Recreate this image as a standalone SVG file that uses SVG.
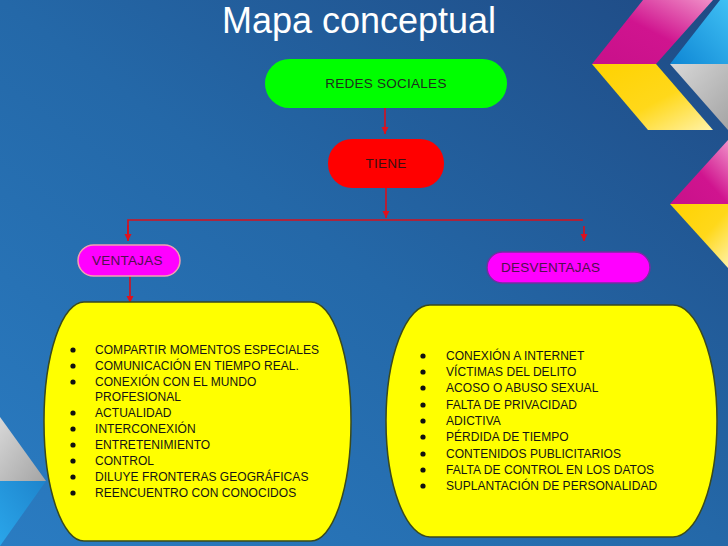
<svg xmlns="http://www.w3.org/2000/svg" width="728" height="546" viewBox="0 0 728 546">
<defs>
<linearGradient id="bg" x1="0" y1="1" x2="1" y2="0">
<stop offset="0" stop-color="#2a7cc2"/>
<stop offset="0.5" stop-color="#2468a8"/>
<stop offset="1" stop-color="#1f4a84"/>
</linearGradient>
<linearGradient id="mag" x1="1" y1="0" x2="0" y2="1">
<stop offset="0" stop-color="#f090c8"/>
<stop offset="0.5" stop-color="#d0148f"/>
<stop offset="1" stop-color="#c8108a"/>
</linearGradient>
<linearGradient id="yel" x1="0" y1="0" x2="1" y2="1">
<stop offset="0" stop-color="#ffd200"/>
<stop offset="0.55" stop-color="#ffd81a"/>
<stop offset="1" stop-color="#fff2a8"/>
</linearGradient>
<linearGradient id="cya" x1="1" y1="0" x2="0" y2="1">
<stop offset="0" stop-color="#40c0f4"/>
<stop offset="1" stop-color="#0e86d4"/>
</linearGradient>
<linearGradient id="gry" x1="0" y1="0" x2="1" y2="1">
<stop offset="0" stop-color="#d8d8d8"/>
<stop offset="1" stop-color="#a4a4a4"/>
</linearGradient>
<linearGradient id="lcy" x1="0" y1="1" x2="1" y2="0">
<stop offset="0" stop-color="#2aa6ea"/>
<stop offset="1" stop-color="#1e84cc"/>
</linearGradient>
<marker id="ah" viewBox="0 0 10 10" refX="10" refY="5" markerWidth="7" markerHeight="9" markerUnits="userSpaceOnUse" orient="auto">
<path d="M0,0 L10,5 L0,10 Z" fill="#e0101c"/>
</marker>
<style>
.title{font-family:"Liberation Sans",Arial,sans-serif;font-size:36px;fill:#ffffff}
.lbl{font-family:"Liberation Sans",Arial,sans-serif;font-size:13.5px;letter-spacing:0.25px}
.item{font-family:"Liberation Sans",Arial,sans-serif;font-size:12px;letter-spacing:0.05px;fill:#141414}
.conn{stroke:#d8101c;stroke-width:1.6;fill:none}
.box{fill:#ffff00;stroke:#3a4a1c;stroke-width:1.5}
.dot{fill:#111111}
</style>
</defs>
<rect x="0" y="0" width="728" height="546" fill="url(#bg)"/>
<g id="decor">
<polygon points="643,0 713,0 656,64 592,64" fill="url(#mag)"/>
<polygon points="592,64 656,64 713,130 648,130" fill="url(#yel)"/>
<polygon points="720,0 728,0 728,64 670,64" fill="url(#cya)"/>
<polygon points="670,64 728,64 728,130" fill="url(#gry)"/>
<polygon points="670,204 728,204 728,140" fill="url(#mag)"/>
<polygon points="670,204 728,204 728,268" fill="url(#yel)"/>
<polygon points="0,417 46,481 0,481" fill="url(#gry)"/>
<polygon points="0,481 46,481 0,546" fill="url(#lcy)"/>
</g>
<text class="title" x="359" y="33" text-anchor="middle">Mapa conceptual</text>
<g id="connectors">
<line class="conn" x1="385" y1="108" x2="385" y2="134" marker-end="url(#ah)"/>
<line class="conn" x1="386" y1="188" x2="386" y2="218" marker-end="url(#ah)"/>
<polyline class="conn" points="128,240 128,220 583,220"/>
<line class="conn" x1="128" y1="225" x2="128" y2="241" marker-end="url(#ah)"/>
<line class="conn" x1="584" y1="226" x2="584" y2="241" marker-end="url(#ah)"/>
<line class="conn" x1="130" y1="276" x2="130" y2="303" marker-end="url(#ah)"/>
</g>
<g id="redes">
<rect x="265" y="59" width="242" height="49" rx="24.5" fill="#00ff00"/>
<text class="lbl" x="386" y="88" text-anchor="middle" fill="#1e2e1e">REDES SOCIALES</text>
</g>
<g id="tiene">
<rect x="328" y="139" width="116" height="49" rx="24" fill="#ff0000"/>
<text class="lbl" x="386" y="168" text-anchor="middle" fill="#3a1010">TIENE</text>
</g>
<g id="ventajas">
<rect x="78" y="245" width="102" height="31" rx="15.5" fill="#ff00ff" stroke="#f4a0b0" stroke-width="1.5"/>
<text class="lbl" x="92" y="265" fill="#50104e">VENTAJAS</text>
</g>
<g id="desventajas">
<rect x="487" y="252" width="163" height="31" rx="15.5" fill="#ff00ff" stroke="#7030a0" stroke-width="1.5"/>
<text class="lbl" x="501" y="272" fill="#50104e">DESVENTAJAS</text>
</g>
<g id="lista-ventajas">
<rect class="box" x="44" y="302" width="307" height="239" rx="40" ry="119"/>
<circle class="dot" cx="73" cy="350" r="2.6"/>
<circle class="dot" cx="73" cy="366" r="2.6"/>
<circle class="dot" cx="73" cy="382" r="2.6"/>
<circle class="dot" cx="73" cy="413" r="2.6"/>
<circle class="dot" cx="73" cy="429" r="2.6"/>
<circle class="dot" cx="73" cy="445" r="2.6"/>
<circle class="dot" cx="73" cy="461" r="2.6"/>
<circle class="dot" cx="73" cy="477" r="2.6"/>
<circle class="dot" cx="73" cy="493" r="2.6"/>
<text class="item" x="95" y="354">COMPARTIR MOMENTOS ESPECIALES</text>
<text class="item" x="95" y="370">COMUNICACIÓN EN TIEMPO REAL.</text>
<text class="item" x="95" y="386">CONEXIÓN CON EL MUNDO</text>
<text class="item" x="95" y="401">PROFESIONAL</text>
<text class="item" x="95" y="417">ACTUALIDAD</text>
<text class="item" x="95" y="433">INTERCONEXIÓN</text>
<text class="item" x="95" y="449">ENTRETENIMIENTO</text>
<text class="item" x="95" y="465">CONTROL</text>
<text class="item" x="95" y="481">DILUYE FRONTERAS GEOGRÁFICAS</text>
<text class="item" x="95" y="497">REENCUENTRO CON CONOCIDOS</text>
</g>
<g id="lista-desventajas">
<rect class="box" x="386" y="305" width="331" height="232" rx="44" ry="116"/>
<circle class="dot" cx="423" cy="356" r="2.6"/>
<circle class="dot" cx="423" cy="372" r="2.6"/>
<circle class="dot" cx="423" cy="388" r="2.6"/>
<circle class="dot" cx="423" cy="405" r="2.6"/>
<circle class="dot" cx="423" cy="421" r="2.6"/>
<circle class="dot" cx="423" cy="437" r="2.6"/>
<circle class="dot" cx="423" cy="454" r="2.6"/>
<circle class="dot" cx="423" cy="470" r="2.6"/>
<circle class="dot" cx="423" cy="486" r="2.6"/>
<text class="item" x="446" y="360">CONEXIÓN A INTERNET</text>
<text class="item" x="446" y="376">VÍCTIMAS DEL DELITO</text>
<text class="item" x="446" y="392">ACOSO O ABUSO SEXUAL</text>
<text class="item" x="446" y="409">FALTA DE PRIVACIDAD</text>
<text class="item" x="446" y="425">ADICTIVA</text>
<text class="item" x="446" y="441">PÉRDIDA DE TIEMPO</text>
<text class="item" x="446" y="458">CONTENIDOS PUBLICITARIOS</text>
<text class="item" x="446" y="474">FALTA DE CONTROL EN LOS DATOS</text>
<text class="item" x="446" y="490">SUPLANTACIÓN DE PERSONALIDAD</text>
</g>
</svg>
